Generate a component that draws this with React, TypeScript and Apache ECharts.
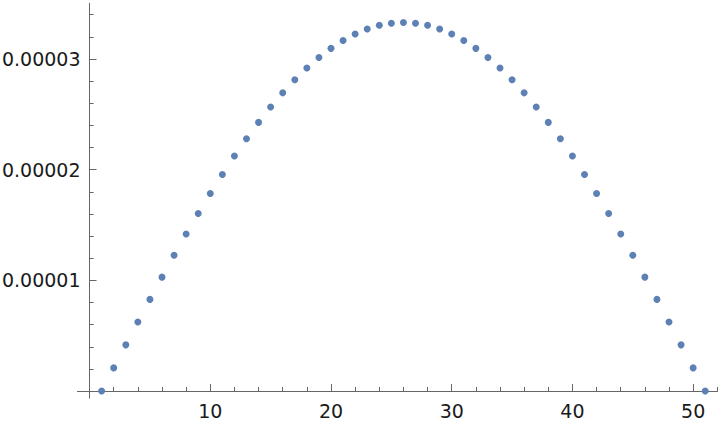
import React, { useEffect, useRef } from "react";
import * as echarts from "echarts";

// x positions 1..51
const xValues = [
  1, 2, 3, 4, 5, 6, 7, 8, 9, 10, 11, 12, 13, 14, 15, 16, 17, 18, 19, 20, 21, 22, 23, 24, 25, 26,
  27, 28, 29, 30, 31, 32, 33, 34, 35, 36, 37, 38, 39, 40, 41, 42, 43, 44, 45, 46, 47, 48, 49, 50, 51,
];
// values
const yValues = [
  0, 2.09e-6, 4.17e-6, 6.24e-6, 8.28e-6, 1.029e-5, 1.226e-5, 1.418e-5, 1.604e-5, 1.784e-5,
  1.957e-5, 2.123e-5, 2.28e-5, 2.427e-5, 2.566e-5, 2.694e-5, 2.812e-5, 2.918e-5, 3.013e-5,
  3.096e-5, 3.167e-5, 3.225e-5, 3.271e-5, 3.304e-5, 3.323e-5, 3.33e-5, 3.323e-5, 3.304e-5,
  3.271e-5, 3.225e-5, 3.167e-5, 3.096e-5, 3.013e-5, 2.918e-5, 2.812e-5, 2.694e-5, 2.566e-5,
  2.427e-5, 2.28e-5, 2.123e-5, 1.957e-5, 1.784e-5, 1.604e-5, 1.418e-5, 1.226e-5, 1.029e-5,
  8.28e-6, 6.24e-6, 4.17e-6, 2.09e-6, 0,
];

const xMajorTicks = [10, 20, 30, 40, 50];
const xMinorTicks = [2, 4, 6, 8, 12, 14, 16, 18, 22, 24, 26, 28, 32, 34, 36, 38, 42, 44, 46, 48, 52];
const yMajorTicks = [1e-5, 2e-5, 3e-5];
const yMinorTicks = [
  2e-6, 4e-6, 6e-6, 8e-6, 1.2e-5, 1.4e-5, 1.6e-5, 1.8e-5, 2.2e-5, 2.4e-5, 2.6e-5, 2.8e-5, 3.2e-5, 3.4e-5,
];

const AXIS_COLOR = "#666666";
const LABEL_COLOR = "#1a1a1a";
const DOT_COLOR = "#5E81B5";
const FONT = "DejaVu Sans";

const X_MIN = -1;
const X_MAX = 52;
const Y_MIN = -6.3e-7;
const Y_MAX = 3.503e-5;

export default function App() {
  const ref = useRef<HTMLDivElement>(null);

  useEffect(() => {
    if (!ref.current) return;
    const chart = echarts.init(ref.current, undefined, { renderer: "svg" });

    const baseX = {
      type: "value" as const,
      min: X_MIN,
      max: X_MAX,
      position: "bottom" as const,
      splitLine: { show: false },
      axisLine: { show: true, onZero: true, onZeroAxisIndex: 0, lineStyle: { color: AXIS_COLOR, width: 1 } },
    };
    const baseY = {
      type: "value" as const,
      min: Y_MIN,
      max: Y_MAX,
      position: "left" as const,
      splitLine: { show: false },
      axisLine: { show: true, onZero: true, onZeroAxisIndex: 0, lineStyle: { color: AXIS_COLOR, width: 1 } },
    };

    chart.setOption({
      animation: false,
      backgroundColor: "#ffffff",
      grid: {
        left: 77.5,
        right: 2.7,
        top: 3.3,
        bottom: 24,
        containLabel: false,
        outerBoundsMode: "none",
      },
      xAxis: [
        {
          ...baseX,
          axisTick: { show: true, inside: true, length: 7, customValues: xMajorTicks, lineStyle: { color: AXIS_COLOR } },
          axisLabel: {
            show: true,
            customValues: xMajorTicks,
            margin: 3,
            fontSize: 19,
            fontFamily: FONT,
            color: LABEL_COLOR,
          },
        },
        {
          ...baseX,
          axisTick: { show: true, inside: true, length: 4, customValues: xMinorTicks, lineStyle: { color: AXIS_COLOR } },
          axisLabel: { show: false },
        },
      ],
      yAxis: [
        {
          ...baseY,
          axisTick: { show: true, inside: true, length: 7, customValues: yMajorTicks, lineStyle: { color: AXIS_COLOR } },
          axisLabel: {
            show: true,
            customValues: yMajorTicks,
            margin: -3,
            fontSize: 19,
            fontFamily: FONT,
            color: LABEL_COLOR,
            formatter: (v: number) => v.toFixed(5),
          },
        },
        {
          ...baseY,
          axisTick: { show: true, inside: true, length: 4, customValues: yMinorTicks, lineStyle: { color: AXIS_COLOR } },
          axisLabel: { show: false },
        },
      ],
      series: [
        {
          type: "scatter",
          xAxisIndex: 0,
          yAxisIndex: 0,
          symbol: "circle",
          symbolSize: 7,
          itemStyle: { color: DOT_COLOR, opacity: 1 },
          clip: false,
          data: xValues.map((x, i) => [x, yValues[i]]),
        },
      ],
    });

    return () => chart.dispose();
  }, []);

  return (
    <div
      ref={ref}
      style={{ position: "absolute", left: 0, top: 0, width: 720, height: 422, background: "#fff" }}
    />
  );
}
